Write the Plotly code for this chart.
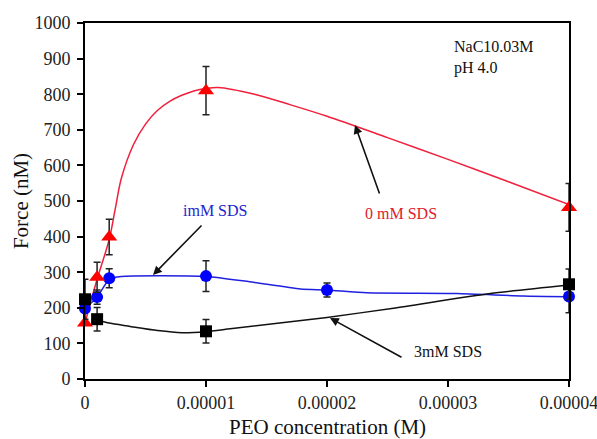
import plotly.graph_objects as go

# ---- data ----
# markers (symbols with error bars)
red_x = [0, 1e-6, 2e-6, 1e-5, 4e-5]
red_y = [157, 286, 399, 810, 482]
red_err = [0, 42, 50, 68, 67]

blue_x = [0, 1e-6, 2e-6, 1e-5, 2e-5, 4e-5]
blue_y = [198, 230, 283, 289, 250, 232]
blue_err = [0, 20, 27, 43, 20, 46]

black_x = [0, 1e-6, 1e-5, 4e-5]
black_y = [224, 168, 134, 266]
black_err = [56, 33, 33, 43]

# smooth fitted curves as drawn in the picture
red_fit_x = [0, 1e-6, 2e-6, 2.5e-6, 3e-6, 4e-6, 5e-6, 6e-6, 7e-6, 8e-6, 9e-6, 1e-5,
             1.1e-5, 1.4e-5, 1.7e-5, 2e-5, 2.5e-5, 3e-5, 3.5e-5, 4e-5]
red_fit_y = [157, 280, 392, 478, 563, 658, 716, 755, 780, 797, 809, 816,
             819, 800, 770, 738, 678, 617, 554, 490]

blue_fit_x = [0, 1e-6, 2e-6, 3e-6, 1e-5, 1.36e-5, 1.78e-5, 2e-5, 2.33e-5, 3.07e-5, 3.62e-5, 4e-5]
blue_fit_y = [198, 230, 280, 288, 288, 273, 253, 250, 242, 240, 233, 231]

black_fit_x = [1e-6, 2e-6, 4e-6, 6e-6, 8e-6, 1e-5, 1.2e-5, 2e-5, 2.55e-5, 3.35e-5, 4e-5]
black_fit_y = [165, 157, 146, 136, 130, 133, 141, 173, 199, 240, 264]

x_ticks = [0, 1e-5, 2e-5, 3e-5, 4e-5]
x_tick_labels = ["0", "0.00001", "0.00002", "0.00003", "0.00004"]

FONT = "Liberation Serif"
RED = "#ff0000"
BLUE = "#0000ff"
BLACK = "#000000"
ERR = "#222222"

fig = go.Figure()

# curves
fig.add_trace(go.Scatter(x=red_fit_x, y=red_fit_y, mode="lines",
                         line=dict(color="#f0203c", width=1.5, shape="spline", smoothing=0.9),
                         cliponaxis=False, hoverinfo="skip"))
fig.add_trace(go.Scatter(x=blue_fit_x, y=blue_fit_y, mode="lines",
                         line=dict(color="#2020e0", width=1.5, shape="spline", smoothing=0.6),
                         cliponaxis=False, hoverinfo="skip"))
fig.add_trace(go.Scatter(x=black_fit_x, y=black_fit_y, mode="lines",
                         line=dict(color="#111111", width=1.5, shape="spline", smoothing=0.6),
                         cliponaxis=False, hoverinfo="skip"))

def marker_trace(x, y, err, color, symbol, size):
    return go.Scatter(
        x=x, y=y, mode="markers",
        marker=dict(color=color, symbol=symbol, size=size, line=dict(width=0)),
        error_y=dict(type="data", array=err, visible=True, color=ERR, thickness=1.5, width=3.5),
        cliponaxis=False,
    )

fig.add_trace(marker_trace(blue_x, blue_y, blue_err, BLUE, "circle", 12))
fig.add_trace(marker_trace(red_x, red_y, red_err, RED, "triangle-up", 14))
fig.add_trace(marker_trace(black_x, black_y, black_err, BLACK, "square", 12))

def px2x(px):
    return (px - 85) / 484 * 4e-5

def px2y(py):
    return (379 - py) / 356 * 1000

annotations = [
    dict(x=px2x(452), y=px2y(57), xref="x", yref="y", text="NaC10.03M<br>pH 4.0",
         showarrow=False, xanchor="left", yanchor="middle", align="left",
         font=dict(family=FONT, size=16, color="#111111")),
    dict(x=px2x(215), y=px2y(210), xref="x", yref="y", text="imM SDS", showarrow=False,
         font=dict(family=FONT, size=16, color="#2424cc")),
    dict(x=px2x(401), y=px2y(213), xref="x", yref="y", text="0 mM SDS", showarrow=False,
         font=dict(family=FONT, size=16, color="#e0202a")),
    dict(x=px2x(448), y=px2y(351), xref="x", yref="y", text="3mM SDS", showarrow=False,
         font=dict(family=FONT, size=16, color="#111111")),
    # x-axis title
    dict(x=0.5, y=(379 - 427) / 356, xref="paper", yref="paper", text="PEO concentration (M)",
         showarrow=False, xanchor="center", yanchor="middle",
         font=dict(family=FONT, size=21, color="#111111")),
]
arrows = [
    ((355, 125), (380, 195)),
    ((153, 275), (203, 224)),
    ((330, 318), (403, 358)),
]
for (hx, hy), (tx, ty) in arrows:
    annotations.append(dict(x=px2x(hx), y=px2y(hy), ax=px2x(tx), ay=px2y(ty),
                            xref="x", yref="y", axref="x", ayref="y", text="",
                            showarrow=True, arrowhead=2, arrowsize=1.1, arrowwidth=1.6,
                            arrowcolor="#111111"))

fig.update_layout(
    width=597, height=439,
    margin=dict(l=85, r=28, t=23, b=60),
    paper_bgcolor="white", plot_bgcolor="white",
    showlegend=False,
    font=dict(family=FONT, color="#111111"),
    annotations=annotations,
    xaxis=dict(range=[0, 4e-5], tickvals=x_ticks, ticktext=x_tick_labels,
               showgrid=False, zeroline=False, showline=True, linecolor="#000000", linewidth=2,
               mirror=True, ticks="outside", ticklen=6, tickwidth=1.5, tickcolor="#000000",
               tickfont=dict(family=FONT, size=18, color="#222222"),
               ticklabeloverflow="allow",
               automargin=False),
    yaxis=dict(range=[0, 1000], dtick=100, tick0=0,
               showgrid=False, zeroline=False, showline=True, linecolor="#000000", linewidth=2,
               mirror=True, ticks="outside", ticklen=6, tickwidth=1.5, tickcolor="#000000",
               tickfont=dict(family=FONT, size=18, color="#222222"),
               ticklabelstandoff=3,
               title=dict(text="Force (nM)", font=dict(family=FONT, size=21, color="#111111"),
                          standoff=0),
               automargin=False),
)

fig.write_html("out.html")
